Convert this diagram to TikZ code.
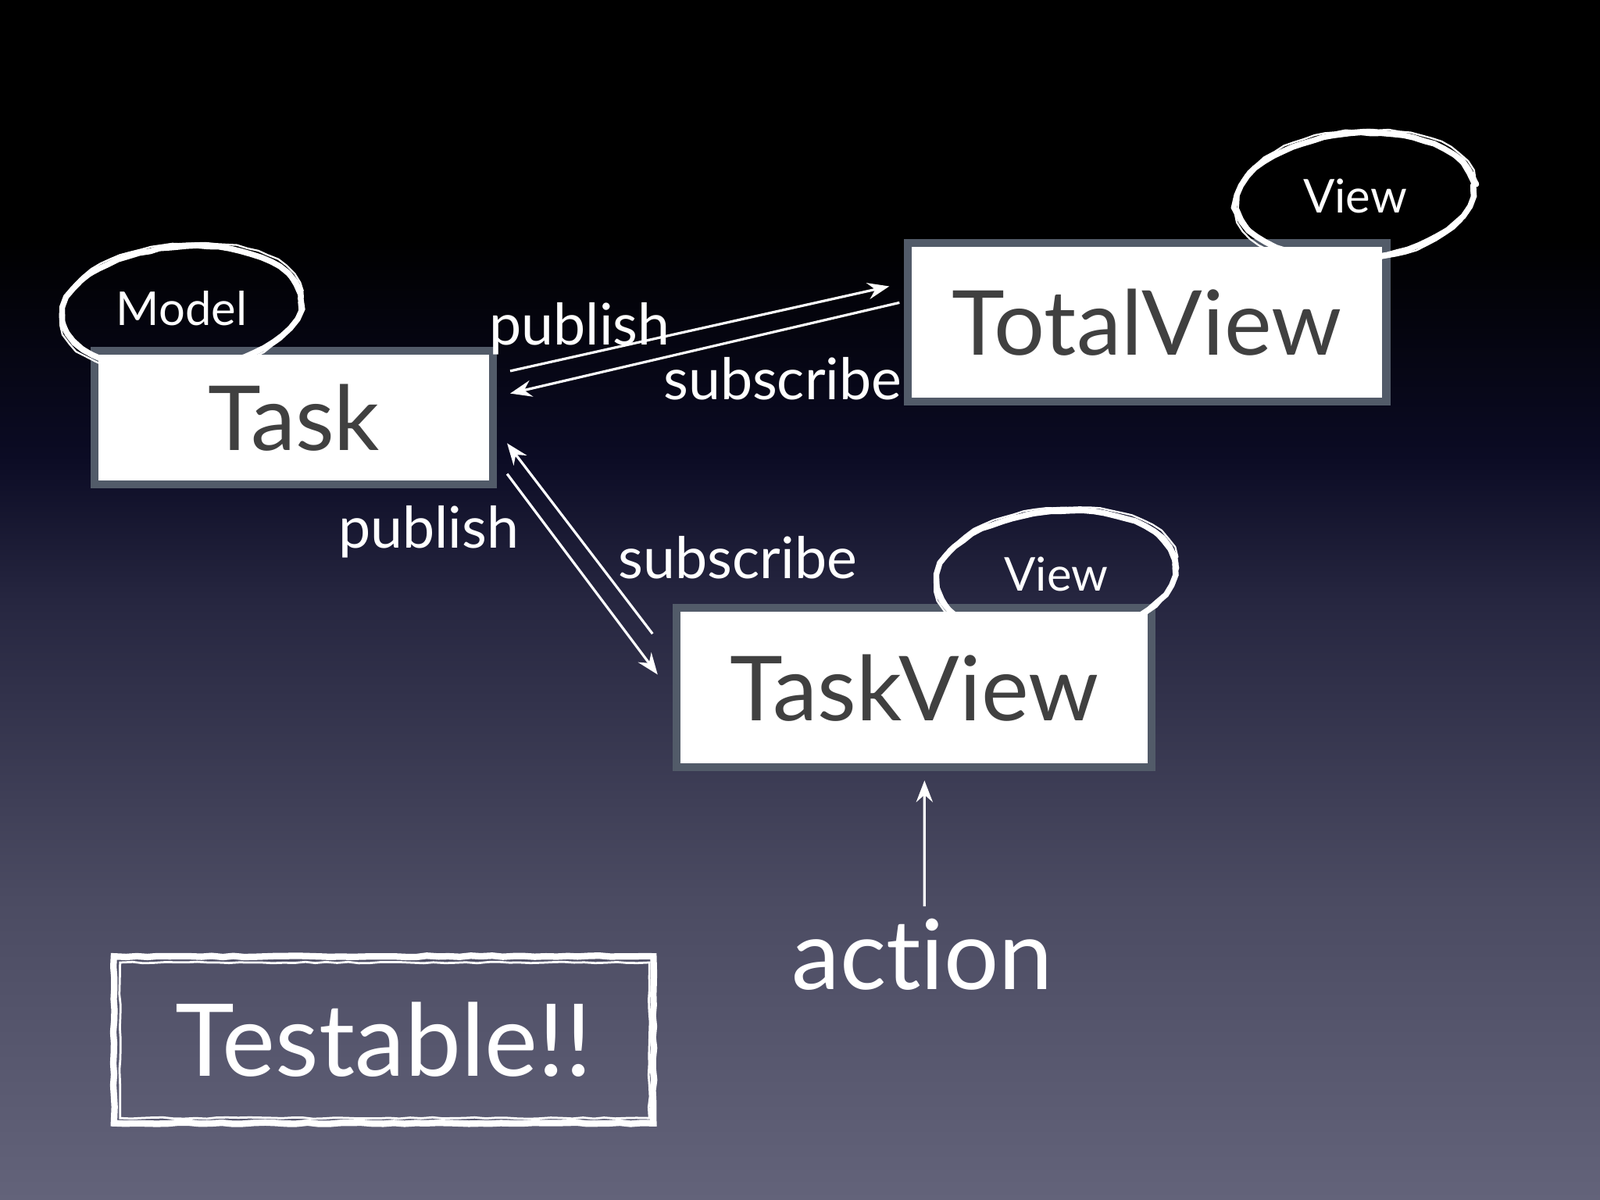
\documentclass[tikz,border=0pt]{standalone}
\usepackage{fontspec}
\setmainfont{Lato}[Ligatures=NoCommon]
\usetikzlibrary{arrows.meta,decorations.pathmorphing}
\definecolor{bgbot}{HTML}{63637A}
\definecolor{bglow}{HTML}{4B4B62}
\definecolor{bgmid}{HTML}{262640}
\definecolor{bgdark}{HTML}{0B0B24}
\definecolor{boxedge}{HTML}{525B69}
\definecolor{boxtext}{HTML}{404040}
\pgfdeclareverticalshading{slide}{100bp}{color(0bp)=(bgbot); color(25bp)=(bgbot); color(37.5bp)=(bglow); color(50bp)=(bgmid); color(56bp)=(bgdark); color(65bp)=(black); color(100bp)=(black)}
\begin{document}
\begin{tikzpicture}[x=0.01cm, y=-0.01cm,
  card/.style={draw=boxedge, line width=2.2pt, fill=white, text=boxtext, font=\fontsize{25}{30}\selectfont},
  tag/.style={text=white, font=\fontsize{13}{16}\selectfont},
  word/.style={text=white, anchor=base, font=\fontsize{16}{19}\selectfont},
  arr/.style={white, line width=0.7pt, -{Stealth[length=6pt, width=4.6pt, inset=2pt]}},
  chalk/.style={white, line cap=round, decorate, decoration={random steps, segment length=3pt, amplitude=0.2pt}}]
  \shade[shading=slide] (0,0) rectangle (1568,1176);
  \node[card, minimum width=3.9cm, minimum height=1.31cm] (task) at (288,409) {Task};
  \node[card, minimum width=4.69cm, minimum height=1.55cm] (total) at (1124,316) {TotalView};
  \node[card, minimum width=4.65cm, minimum height=1.56cm] (taskview) at (896,674) {TaskView};
  \node[tag] (model) at (178,302) {Model};
  \node[tag] (viewtotal) at (1328,192) {View};
  \node[tag] (viewtask) at (1035,563) {View};
  \foreach \n/\rx/\ry in {model/117/60, viewtotal/116/61, viewtask/117/62} {
    \draw[chalk, line width=1.6pt, rotate around={5:(\n.center)}] (\n.center) ellipse [x radius=\rx, y radius=\ry];
    \draw[chalk, line width=0.5pt, rotate around={8:(\n.center)}] (\n.center) ellipse [x radius=\rx+2, y radius=\ry+2];
    \draw[chalk, line width=0.5pt, rotate around={3:(\n.center)}] (\n.center) ellipse [x radius=\rx-2, y radius=\ry+3];
  }
  \draw[arr] ([shift={(13,24)}]task.north east) -- ([shift={(-14,46)}]total.north west);
  \draw[arr] ([shift={(-4,62)}]total.north west) -- ([shift={(13,46)}]task.north east);
  \draw[arr] ([shift={(-20,29)}]taskview.north west) -- ([shift={(10,-44)}]task.south east);
  \draw[arr] ([shift={(10,-14)}]task.south east) -- ([shift={(-15,69)}]taskview.north west);
  \node[word] (pubtotal) at (568,338) {publish};
  \node[word] (subtotal) at (767,392) {subscribe};
  \node[word] (pubtask) at (420,537) {publish};
  \node[word] (subtask) at (723,567) {subscribe};
  \node[word, font=\fontsize{27}{32}\selectfont] (action) at (904,970) {action};
  \draw[arr] ([xshift=0.02cm]action.north) -- ([shift={(10,9)}]taskview.south);
  \node[text=white, font=\fontsize{28}{34}\selectfont, minimum width=5.27cm, minimum height=1.62cm] (testable) at (376,1019) {Testable!!};
  \draw[chalk, line width=1.8pt] (testable.north west) rectangle (testable.south east);
  \draw[chalk, line width=0.6pt] ([shift={(6,6)}]testable.north west) rectangle ([shift={(-4,-5)}]testable.south east);
\end{tikzpicture}
\end{document}
